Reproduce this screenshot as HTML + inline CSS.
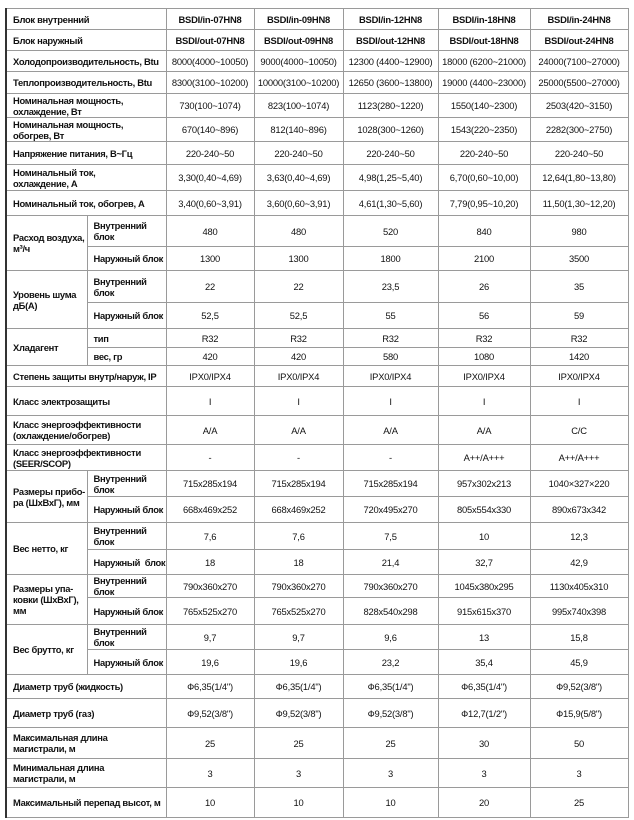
<!DOCTYPE html>
<html><head><meta charset="utf-8"><style>
html,body{margin:0;padding:0;background:#fff;width:634px;height:820px;overflow:hidden}
table{position:absolute;left:5px;top:8px;border-collapse:collapse;table-layout:fixed;width:622px;font-family:"Liberation Sans","DejaVu Sans",sans-serif;font-size:9.4px;color:#111}
td{border:1px solid #9a9a9a;padding:0;text-align:center;line-height:11px;overflow:hidden;white-space:nowrap;letter-spacing:-0.2px}
td.l{text-align:left;font-weight:bold;padding-left:6px;letter-spacing:-0.3px}
tr.h td{font-weight:bold}
table{border-left:2px solid #333}
</style></head><body>
<table>
<colgroup><col style="width:81px"><col style="width:79px"><col style="width:88px"><col style="width:89px"><col style="width:95px"><col style="width:92px"><col style="width:98px"></colgroup>
<tr class="h" style="height:21px"><td class="l" colspan="2">Блок внутренний</td><td>BSDI/in-07HN8</td><td>BSDI/in-09HN8</td><td>BSDI/in-12HN8</td><td>BSDI/in-18HN8</td><td>BSDI/in-24HN8</td></tr>
<tr class="h" style="height:21px"><td class="l" colspan="2">Блок наружный</td><td>BSDI/out-07HN8</td><td>BSDI/out-09HN8</td><td>BSDI/out-12HN8</td><td>BSDI/out-18HN8</td><td>BSDI/out-24HN8</td></tr>
<tr style="height:21px"><td class="l" colspan="2">Холодопроизводительность, Btu</td><td>8000(4000~10050)</td><td>9000(4000~10050)</td><td>12300 (4400~12900)</td><td>18000 (6200~21000)</td><td>24000(7100~27000)</td></tr>
<tr style="height:22px"><td class="l" colspan="2">Теплопроизводительность, Btu</td><td>8300(3100~10200)</td><td>10000(3100~10200)</td><td>12650 (3600~13800)</td><td>19000 (4400~23000)</td><td>25000(5500~27000)</td></tr>
<tr style="height:24px"><td class="l" colspan="2">Номинальная мощность,<br>охлаждение, Вт</td><td>730(100~1074)</td><td>823(100~1074)</td><td>1123(280~1220)</td><td>1550(140~2300)</td><td>2503(420~3150)</td></tr>
<tr style="height:24px"><td class="l" colspan="2">Номинальная мощность,<br>обогрев, Вт</td><td>670(140~896)</td><td>812(140~896)</td><td>1028(300~1260)</td><td>1543(220~2350)</td><td>2282(300~2750)</td></tr>
<tr style="height:23px"><td class="l" colspan="2">Напряжение питания, В~Гц</td><td>220-240~50</td><td>220-240~50</td><td>220-240~50</td><td>220-240~50</td><td>220-240~50</td></tr>
<tr style="height:26px"><td class="l" colspan="2">Номинальный ток,<br>охлаждение, А</td><td>3,30(0,40~4,69)</td><td>3,63(0,40~4,69)</td><td>4,98(1,25~5,40)</td><td>6,70(0,60~10,00)</td><td>12,64(1,80~13,80)</td></tr>
<tr style="height:25px"><td class="l" colspan="2">Номинальный ток, обогрев, А</td><td>3,40(0,60~3,91)</td><td>3,60(0,60~3,91)</td><td>4,61(1,30~5,60)</td><td>7,79(0,95~10,20)</td><td>11,50(1,30~12,20)</td></tr>
<tr style="height:31px"><td class="l" rowspan="2">Расход воздуха,<br>м³/ч</td><td class="l">Внутренний<br>блок</td><td>480</td><td>480</td><td>520</td><td>840</td><td>980</td></tr>
<tr style="height:24px"><td class="l">Наружный блок</td><td>1300</td><td>1300</td><td>1800</td><td>2100</td><td>3500</td></tr>
<tr style="height:32px"><td class="l" rowspan="2">Уровень шума<br>дБ(А)</td><td class="l">Внутренний<br>блок</td><td>22</td><td>22</td><td>23,5</td><td>26</td><td>35</td></tr>
<tr style="height:26px"><td class="l">Наружный блок</td><td>52,5</td><td>52,5</td><td>55</td><td>56</td><td>59</td></tr>
<tr style="height:19px"><td class="l" rowspan="2">Хладагент</td><td class="l">тип</td><td>R32</td><td>R32</td><td>R32</td><td>R32</td><td>R32</td></tr>
<tr style="height:18px"><td class="l">вес, гр</td><td>420</td><td>420</td><td>580</td><td>1080</td><td>1420</td></tr>
<tr style="height:21px"><td class="l" colspan="2">Степень защиты внутр/наруж, IP</td><td>IPX0/IPX4</td><td>IPX0/IPX4</td><td>IPX0/IPX4</td><td>IPX0/IPX4</td><td>IPX0/IPX4</td></tr>
<tr style="height:29px"><td class="l" colspan="2">Класс электрозащиты</td><td>I</td><td>I</td><td>I</td><td>I</td><td>I</td></tr>
<tr style="height:29px"><td class="l" colspan="2">Класс энергоэффективности<br>(охлаждение/обогрев)</td><td>A/A</td><td>A/A</td><td>A/A</td><td>A/A</td><td>C/C</td></tr>
<tr style="height:26px"><td class="l" colspan="2">Класс энергоэффективности<br>(SEER/SCOP)</td><td>-</td><td>-</td><td>-</td><td>A++/A+++</td><td>A++/A+++</td></tr>
<tr style="height:26px"><td class="l" rowspan="2">Размеры прибо-<br>ра (ШхВхГ), мм</td><td class="l">Внутренний<br>блок</td><td>715x285x194</td><td>715x285x194</td><td>715x285x194</td><td>957x302x213</td><td>1040×327×220</td></tr>
<tr style="height:26px"><td class="l">Наружный блок</td><td>668x469x252</td><td>668x469x252</td><td>720x495x270</td><td>805x554x330</td><td>890x673x342</td></tr>
<tr style="height:27px"><td class="l" rowspan="2">Вес нетто, кг</td><td class="l">Внутренний<br>блок</td><td>7,6</td><td>7,6</td><td>7,5</td><td>10</td><td>12,3</td></tr>
<tr style="height:25px"><td class="l">Наружный&nbsp; блок</td><td>18</td><td>18</td><td>21,4</td><td>32,7</td><td>42,9</td></tr>
<tr style="height:23px"><td class="l" rowspan="2">Размеры упа-<br>ковки (ШхВхГ),<br>мм</td><td class="l">Внутренний<br>блок</td><td>790x360x270</td><td>790x360x270</td><td>790x360x270</td><td>1045x380x295</td><td>1130x405x310</td></tr>
<tr style="height:27px"><td class="l">Наружный блок</td><td>765x525x270</td><td>765x525x270</td><td>828x540x298</td><td>915x615x370</td><td>995x740x398</td></tr>
<tr style="height:25px"><td class="l" rowspan="2">Вес брутто, кг</td><td class="l">Внутренний<br>блок</td><td>9,7</td><td>9,7</td><td>9,6</td><td>13</td><td>15,8</td></tr>
<tr style="height:25px"><td class="l">Наружный блок</td><td>19,6</td><td>19,6</td><td>23,2</td><td>35,4</td><td>45,9</td></tr>
<tr style="height:24px"><td class="l" colspan="2">Диаметр труб (жидкость)</td><td>Ф6,35(1/4")</td><td>Ф6,35(1/4")</td><td>Ф6,35(1/4")</td><td>Ф6,35(1/4")</td><td>Ф9,52(3/8")</td></tr>
<tr style="height:29px"><td class="l" colspan="2">Диаметр труб (газ)</td><td>Ф9,52(3/8")</td><td>Ф9,52(3/8")</td><td>Ф9,52(3/8")</td><td>Ф12,7(1/2")</td><td>Ф15,9(5/8")</td></tr>
<tr style="height:31px"><td class="l" colspan="2">Максимальная длина<br>магистрали, м</td><td>25</td><td>25</td><td>25</td><td>30</td><td>50</td></tr>
<tr style="height:29px"><td class="l" colspan="2">Минимальная длина<br>магистрали, м</td><td>3</td><td>3</td><td>3</td><td>3</td><td>3</td></tr>
<tr style="height:30px"><td class="l" colspan="2">Максимальный перепад высот, м</td><td>10</td><td>10</td><td>10</td><td>20</td><td>25</td></tr>
</table>
</body></html>
